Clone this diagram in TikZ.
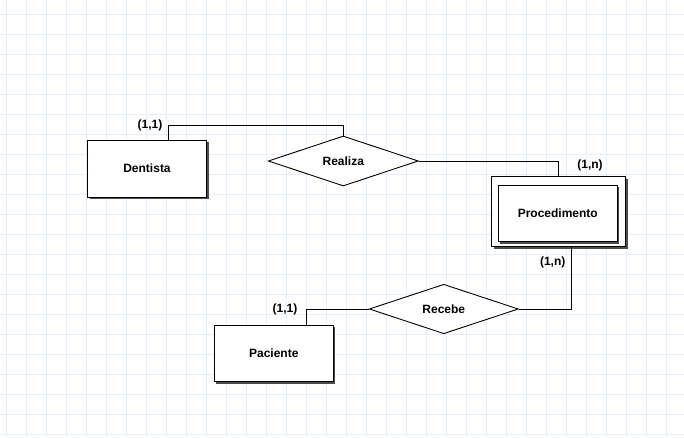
\documentclass[tikz,border=0pt]{standalone}
\usepackage{fontspec}
\setmainfont{Liberation Sans}
\usetikzlibrary{shapes.geometric,shadows}
\definecolor{gridc}{RGB}{230,239,247}
\tikzset{
  ent/.style={draw=black, line width=0.9pt, fill=white, inner sep=0pt,
    drop shadow={shadow xshift=2pt, shadow yshift=-2pt, fill=black!70, opacity=1},
    font=\bfseries\fontsize{12}{14}\selectfont},
  rel/.style={draw=black, line width=0.9pt, fill=white, diamond, inner sep=0pt, aspect=3,
    font=\bfseries\fontsize{12}{14}\selectfont},
  card/.style={inner sep=0pt, font=\bfseries\fontsize{12}{14}\selectfont},
  conn/.style={draw=black, line width=0.9pt}
}
\begin{document}
\begin{tikzpicture}[x=1pt,y=-1pt]
\useasboundingbox (0,0) rectangle (684,437);
\fill[white] (0,0) rectangle (684,437);
\foreach \i in {0,...,33} {\draw[gridc, line width=1pt] (6.5+20*\i,0) -- (6.5+20*\i,437);}
\foreach \j in {0,...,21} {\draw[gridc, line width=1pt] (0,14.3+20*\j) -- (684,14.3+20*\j);}

\node[ent, minimum width=119pt, minimum height=57pt] (dent) at (147,168.5) {Dentista};
\node[rel, minimum width=150pt, minimum height=50pt] (realiza) at (343.3,161) {Realiza};
\node[ent, minimum width=134pt, minimum height=70pt] (procout) at (558.6,211.9) {};
\node[ent, minimum width=119pt, minimum height=56.7pt] (proc) at (557.8,213.3) {Procedimento};
\node[rel, minimum width=149pt, minimum height=49.5pt] (recebe) at (443.8,309) {Recebe};
\node[ent, minimum width=119pt, minimum height=56.4pt] (pac) at (273.8,353.5) {Paciente};

\node[card] (c1) at (150,125) {(1,1)};
\node[card] (c2) at (590,165.7) {(1,n)};
\node[card] (c3) at (552.7,262.3) {(1,n)};
\node[card] (c4) at (285,309) {(1,1)};

\draw[conn] ([xshift=81.3pt]dent.north west) |- ([yshift=10pt]realiza.north) -- (realiza.north);
\draw[conn] (realiza.east) -| ([xshift=67.5pt]procout.north west);
\draw[conn] ([xshift=80.2pt]procout.south west) |- (recebe.east);
\draw[conn] (recebe.west) -| ([xshift=92.4pt]pac.north west);
\end{tikzpicture}
\end{document}
